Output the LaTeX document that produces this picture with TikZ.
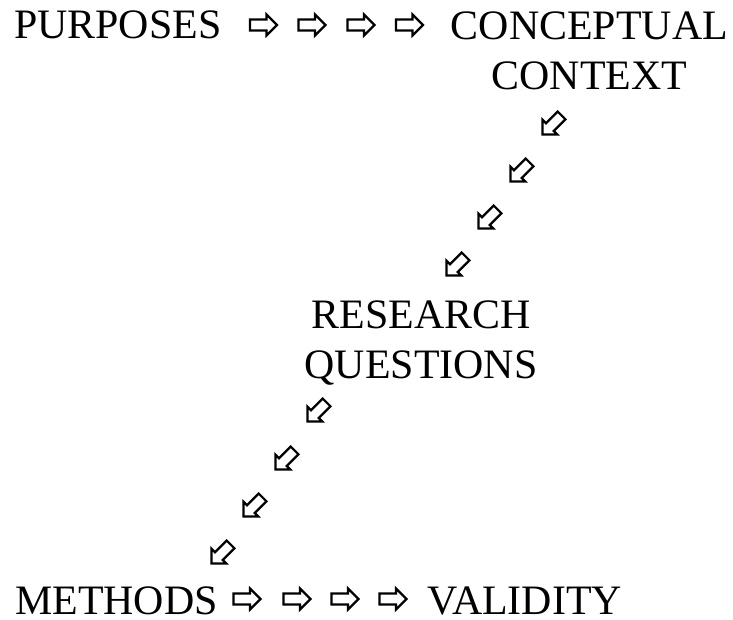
\documentclass[tikz,border=0pt]{standalone}
\usepackage{fontspec}
\setmainfont{Liberation Serif}
\tikzset{
  word/.style={inner sep=0pt, font=\fontsize{41.9}{50}\selectfont, align=center},
  wingarrow/.pic={
    \draw[line width=2.2pt, line join=miter]
      (-13.5,-5.5) -- (3,-5.5) -- (3,-10.5) -- (13.5,0) -- (3,10.5) -- (3,5.5) -- (-13.5,5.5) -- cycle;
  }
}
\begin{document}
\begin{tikzpicture}[x=1pt, y=-1pt]
\useasboundingbox (0,0) rectangle (733,620);
\node[word, anchor=base west] (purposes) at (14,39) {PURPOSES};
\node[word, anchor=base] (context) at (589.5,90) {CONCEPTUAL\\CONTEXT};
\node[word, anchor=base] (questions) at (421,378) {RESEARCH\\QUESTIONS};
\node[word, anchor=base west] (methods) at (15,614) {METHODS};
\node[word, anchor=base west] (validity) at (427,614) {VALIDITY};
% purposes to conceptual context
\pic (p1) at (263.5,25) {wingarrow};
\pic (p2) at (312,25) {wingarrow};
\pic (p3) at (361,25) {wingarrow};
\pic (p4) at (409.5,25) {wingarrow};
% conceptual context to research questions
\pic[rotate=-135] (c1) at (552,125) {wingarrow};
\pic[rotate=-135] (c2) at (520,172) {wingarrow};
\pic[rotate=-135] (c3) at (488,219) {wingarrow};
\pic[rotate=-135] (c4) at (456,266) {wingarrow};
% research questions to methods
\pic[rotate=-135] (q1) at (317,412) {wingarrow};
\pic[rotate=-135] (q2) at (285,460) {wingarrow};
\pic[rotate=-135] (q3) at (253,507) {wingarrow};
\pic[rotate=-135] (q4) at (221,554) {wingarrow};
% methods to validity
\pic (m1) at (247,599) {wingarrow};
\pic (m2) at (297,599) {wingarrow};
\pic (m3) at (345,599) {wingarrow};
\pic (m4) at (393,599) {wingarrow};
\end{tikzpicture}
\end{document}
